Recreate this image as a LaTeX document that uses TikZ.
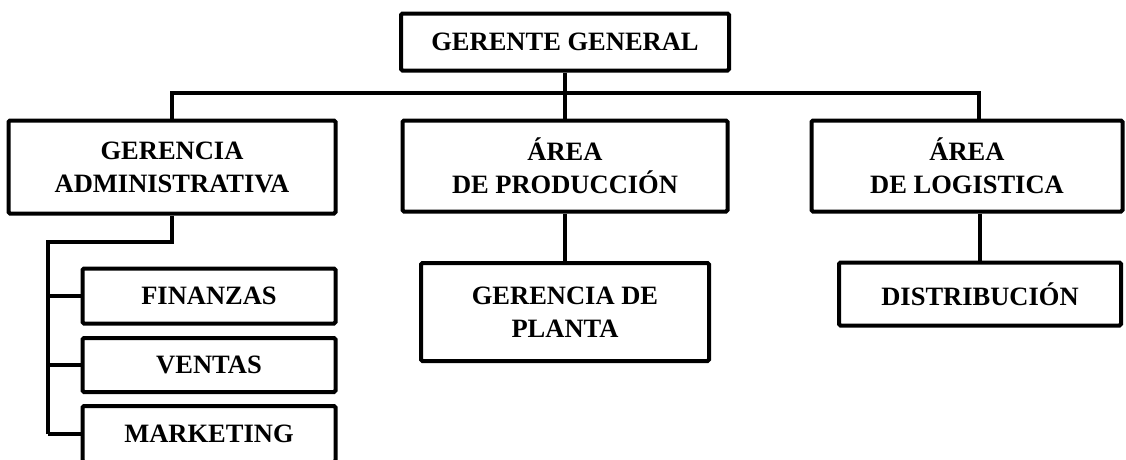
\documentclass[tikz,border=0pt]{standalone}
\usepackage{fontspec}
\setmainfont{Liberation Serif}
\usetikzlibrary{positioning}

\begin{document}
\begin{tikzpicture}[x=1pt, y=-1pt,
		caja/.style={draw=black, line width=4pt, rounded corners=1.5pt, inner sep=0pt,
			align=center, font=\bfseries\fontsize{26.5}{33}\selectfont},
		linea/.style={draw=black, line width=4pt}]
		\useasboundingbox (0,0) rectangle (1126,459);
		\clip (0,0) rectangle (1126,459);

		\node[caja, minimum width=328, minimum height=57] (gg) at (565,42) {GERENTE GENERAL};

		\node[caja, minimum width=327, minimum height=93] (adm) at (172,167) {GERENCIA\\ADMINISTRATIVA};
		\node[caja, minimum width=325, minimum height=91] (prod) at (565,166) {ÁREA\\DE PRODUCCIÓN};
		\node[caja, minimum width=311, minimum height=91] (log) at (967,166) {ÁREA\\DE LOGISTICA};

		\node[caja, minimum width=288, minimum height=98] (planta) at (565,312) {GERENCIA DE\\PLANTA};
		\node[caja, minimum width=282, minimum height=63] (dist) at (980,294) {DISTRIBUCIÓN};

		\node[caja, minimum width=253, minimum height=55] (fin) at (209,296) {FINANZAS};
		\node[caja, minimum width=253, minimum height=54] (ven) at (209,365) {VENTAS};
		\node[caja, minimum width=253, minimum height=56] (mkt) at (209,434) {MARKETING};

		\coordinate (barra) at (979,93);
		\coordinate (codo) at (48,242);

		\draw[linea] (gg.south) -- (prod.north);
		\draw[linea] (adm.north) |- (barra) -- (barra |- log.north);
		\draw[linea] (prod.south) -- (planta.north);
		\draw[linea] (dist.north |- log.south) -- (dist.north);

		\draw[linea] (adm.south) |- (codo) -- (codo |- mkt.west);
		\draw[linea] (codo |- fin.west) -- (fin.west);
		\draw[linea] (codo |- ven.west) -- (ven.west);
		\draw[linea] (codo |- mkt.west) -- (mkt.west);
	\end{tikzpicture}
\end{document}
